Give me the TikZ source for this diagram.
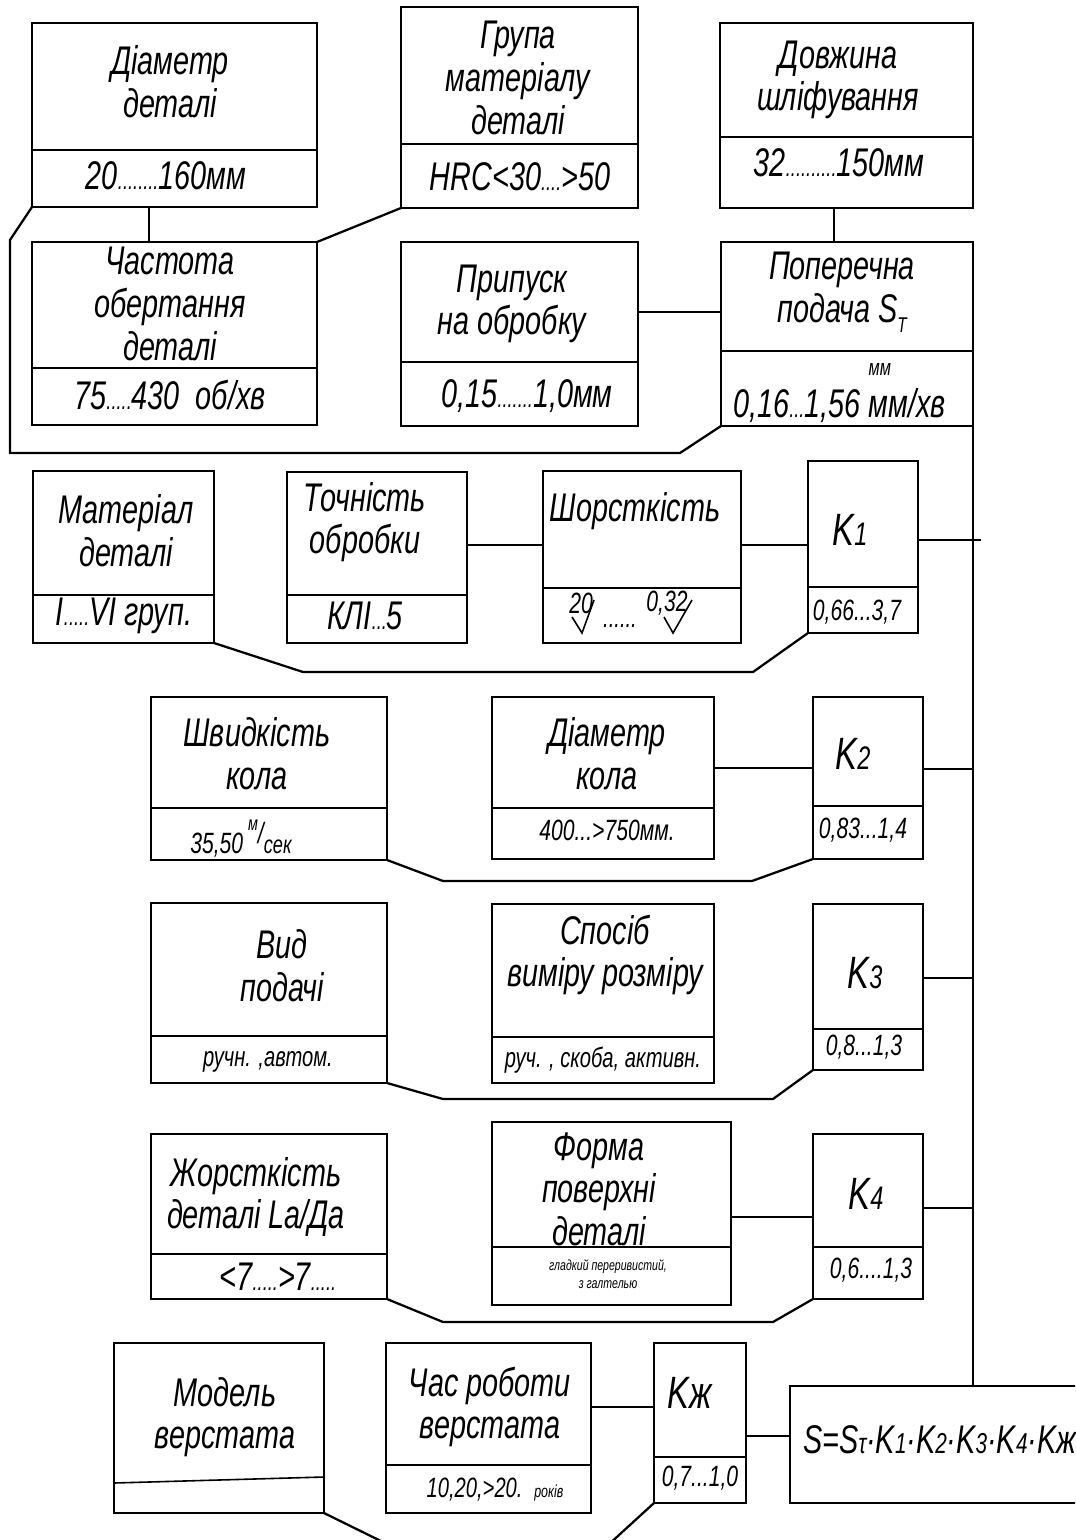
\documentclass[tikz,border=0pt]{standalone}
\usepackage{fontspec}
\usepackage{graphicx}
\newfontfamily\gost{Liberation Sans}[FakeStretch=0.72]
\usetikzlibrary{calc}
\newcommand{\mkcell}[5]{%
  \node[cellf, minimum width={(#4-#2)*0.75pt}, minimum height={(#5-#3)*0.75pt}] (#1) at ({(#2+#4)/2},{(#3+#5)/2}) {};}
\newcommand{\smd}[1]{\scalebox{0.72}{#1}}
\newcommand{\dd}[1]{{\fontsize{19}{19}\selectfont #1}}
\tikzset{
 cellf/.style={draw, line width=1.6pt, inner sep=0pt, outer sep=0pt, rectangle},
 lnk/.style={line width=1.2pt},
 loopln/.style={line width=1.7pt, line join=miter},
 tb/.style={font=\gost\itshape\fontsize{30}{32}\selectfont, align=center, inner sep=0pt},
 tm/.style={font=\gost\itshape\fontsize{22}{24}\selectfont, align=center, inner sep=0pt},
 tsm/.style={font=\gost\itshape\fontsize{21}{24}\selectfont, align=center, inner sep=0pt},
 ttiny/.style={font=\gost\itshape\fontsize{11}{13.5}\selectfont, align=center, inner sep=0pt},
 tk/.style={font=\gost\itshape\fontsize{34}{36}\selectfont, inner sep=0pt},
}
\begin{document}
\begin{tikzpicture}[x=0.75pt,y=-0.75pt]
\useasboundingbox (0,0) rectangle (1075,1540);
\clip (0,0) rectangle (1075,1540);
\fill[white] (0,0) rectangle (1075,1540);

% ---------- top block ----------
\mkcell{A1t}{32}{23}{317}{150}
\mkcell{A1b}{32}{150}{317}{207}
\mkcell{A2t}{401}{7}{638}{144}
\mkcell{A2b}{401}{144}{638}{208}
\mkcell{A3t}{720}{23}{973}{137}
\mkcell{A3b}{720}{137}{973}{208}
\mkcell{B1t}{32}{242}{317}{368}
\mkcell{B1b}{32}{368}{317}{425}
\mkcell{B2t}{401}{242}{638}{362}
\mkcell{B2b}{401}{362}{638}{426}
\mkcell{B3t}{721}{242}{973}{351}
\mkcell{B3b}{721}{351}{973}{426}

\node[tb] (A1x) at (170,82) {Діаметр\\деталі};
\node[tb] (A1v) at (166,176) {20\dd{........}160мм};
\node[tb] (A2x) at (518,78) {Група\\матеріалу\\деталі};
\node[tb] (A2v) at (520,177) {HRC<30\dd{....}>50};
\node[tb] (A3x) at (838,80) {Довжина\\шліфування};
\node[tb] (A3v) at (839,163) {32\dd{..........}150мм};
\node[tb] (B1x) at (170,304) {Частота\\обертання\\деталі};
\node[tb] (B1v) at (170,395) {75\dd{.....}430\ \ об/хв};
\node[tb] (B2x) at (512,304) {Припуск\\на обробку};
\node[tb] (B2v) at (527,396) {0,15\dd{.......}1,0мм};
\node[tb] (B3x) at (842,292) {Поперечна\\подача S\raisebox{-0.25em}{\fontsize{16}{16}\selectfont T}};
\node[tb, anchor=base west] (B3v) at (733,417) {0,16\dd{...}1,56\ \rlap{\raisebox{31pt}{\fontsize{17}{17}\selectfont мм}}мм/хв};

\draw[lnk] (A1b.south west) ++(117,0) coordinate (c1) -- (c1 |- B1t.north);
\draw[loopln] (A2b.south west) -- (B1t.north east);
\draw[lnk] (A3b.south west) ++(114,0) coordinate (c2) -- (c2 |- B3t.north);
\draw[lnk] (B2t.south east) ++(0,-50) coordinate (c3) -- (c3 -| B3t.west);
\draw[loopln] (A1b.south west) -- (10,240) -- (10,453) -- (680,453) -- (B3b.south west);

% ---------- row 1 ----------
\mkcell{C1t}{33}{471}{214}{595}
\mkcell{C1b}{33}{595}{214}{643}
\mkcell{C2t}{287}{472}{467}{595}
\mkcell{C2b}{287}{595}{467}{643}
\mkcell{C3t}{543}{471}{741}{588}
\mkcell{C3b}{543}{588}{741}{643}
\mkcell{K1t}{808}{461}{918}{587}
\mkcell{K1b}{808}{587}{918}{633}

\node[tb] (C1x) at (126,531) {Матеріал\\деталі};
\node[tb] (C1v) at (124,616) {I\dd{.....}VI груп.};
\node[tb] (C2x) at (365,522) {Точність\\обробки};
\node[tb] (C2v) at (365,616) {КЛІ\dd{...}5};
\node[tb] (C3x) at (635,511) {Шорсткість};
\node[tm] (R1) at (581,603) {20};
\draw[lnk] (572,617) -- (582,633) -- (594,600);
\node[tsm] (R2) at (620,626) {......};
\node[tm] (R3) at (667,603) {0,32};
\draw[lnk] (664,617) -- (673,633) -- (692,600);
\node[tk] (K1x) at (850,530) {K\smd{1}};
\node[tm] (K1v) at (857,612) {0,66...3,7};

\draw[lnk] (C2t.south east) ++(0,-50) coordinate (c4) -- (c4 -| C3t.west);
\draw[lnk] (C3t.south east) ++(0,-43) coordinate (c5) -- (c5 -| K1t.west);
\draw[lnk] (K1t.south east) ++(0,-47) coordinate (c6) -- ++(63,0);
\draw[loopln] (C1b.south east) -- (303,672) -- (753,672) -- (K1b.south west);

% ---------- row 2 ----------
\mkcell{D1t}{151}{697}{387}{808}
\mkcell{D1b}{151}{808}{387}{860}
\mkcell{D2t}{492}{697}{714}{808}
\mkcell{D2b}{492}{808}{714}{859}
\mkcell{K2t}{813}{697}{923}{806}
\mkcell{K2b}{813}{806}{923}{859}

\node[tb] (D1x) at (257,754) {Швидкість\\кола};
\node[tm, anchor=base west] (D1v) at (190,853) {35,50\,\raisebox{17pt}{\fontsize{15}{15}\selectfont м}\raisebox{7pt}{\fontsize{22}{22}\selectfont /}{\fontsize{19}{19}\selectfont сек}};
\node[tb] (D2x) at (607,754) {Діаметр\\кола};
\node[tm] (D2v) at (607,830) {400...>750мм.};
\node[tk] (K2x) at (853,754) {K\smd{2}};
\node[tm] (K2v) at (863,830) {0,83...1,4};

\draw[lnk] (D2t.south east) ++(0,-40) coordinate (c7) -- (c7 -| K2t.west);
\draw[lnk] (K2t.south east) ++(0,-37) coordinate (c8) -- (c8 -| B3b.south east);
\draw[loopln] (D1b.south east) -- (443,881) -- (752,881) -- (K2b.south west);

% ---------- row 3 ----------
\mkcell{E1t}{151}{903}{387}{1036}
\mkcell{E1b}{151}{1036}{387}{1083}
\mkcell{E2t}{492}{904}{714}{1037}
\mkcell{E2b}{492}{1037}{714}{1083}
\mkcell{K3t}{813}{904}{923}{1029}
\mkcell{K3b}{813}{1029}{923}{1070}

\node[tb] (E1x) at (282,966) {Вид\\подачі};
\node[tsm] (E1v) at (268,1062) {ручн. ,автом.};
\node[tb] (E2x) at (605,955) {Спосіб\\виміру розміру};
\node[tsm] (E2v) at (603,1060) {руч. , скоба, активн.};
\node[tk] (K3x) at (865,973) {K\smd{3}};
\node[tm] (K3v) at (864,1047) {0,8...1,3};

\draw[lnk] (K3t.south east) ++(0,-51) coordinate (c9) -- (c9 -| B3b.south east);
\draw[loopln] (E1b.south east) -- (443,1099) -- (773,1099) -- (K3b.south west);

% ---------- row 4 ----------
\mkcell{F1t}{151}{1134}{387}{1254}
\mkcell{F1b}{151}{1254}{387}{1299}
\mkcell{F2t}{492}{1122}{731}{1247}
\mkcell{F2b}{492}{1247}{731}{1305}
\mkcell{K4t}{813}{1134}{923}{1247}
\mkcell{K4b}{813}{1247}{923}{1299}

\node[tb] (F1x) at (256,1197) {Жорсткість\\деталі La/Дa};
\node[tb] (F1v) at (278,1277) {<7\dd{.....}>7\dd{.....}};
\node[tb] (F2x) at (599,1189) {Форма\\поверхні\\деталі};
\node[ttiny] (F2v) at (608,1274) {гладкий переривистий,\\з галтелью};
\node[tk] (K4x) at (866,1194) {K\smd{4}};
\node[tm] (K4v) at (871,1270) {0,6....1,3};

\draw[lnk] (F2t.south east) ++(0,-30) coordinate (c10) -- (c10 -| K4t.west);
\draw[lnk] (K4t.south east) ++(0,-39) coordinate (c11) -- (c11 -| B3b.south east);
\draw[loopln] (F1b.south east) -- (443,1322) -- (773,1322) -- (K4b.south west);

% ---------- row 5 ----------
\mkcell{G1}{114}{1343}{324}{1513}
\draw[lnk] (G1.south west) ++(0,-30) -- ($(G1.south east)+(0,-36)$);
\mkcell{G2t}{386}{1343}{591}{1465}
\mkcell{G2b}{386}{1465}{591}{1513}
\mkcell{KZt}{654}{1343}{746}{1457}
\mkcell{KZb}{654}{1457}{746}{1503}
\mkcell{S}{790}{1386}{1090}{1503}

\node[tb] (G1x) at (225,1417) {Модель\\верстата};
\node[tb] (G2x) at (490,1407) {Час роботи\\верстата};
\node[tm] (G2v) at (495,1490) {{\fontsize{21}{21}\selectfont 10,20,>20.}\ \ {\fontsize{13}{13}\selectfont років}};
\node[tk] (KZx) at (690,1393) {Kж};
\node[tm] (KZv) at (700,1478) {0,7...1,0};
\node[tb, anchor=west] (Sx) at (803,1440) {S=S\smd{τ}·K\smd{1}·K\smd{2}·K\smd{3}·K\smd{4}·Kж};

\draw[lnk] (G2t.south east) ++(0,-58) coordinate (c12) -- (c12 -| KZt.west);
\draw[lnk] (KZt.south east) ++(0,-21) coordinate (c13) -- (c13 -| S.west);
\draw[loopln] (G1.south east) -- (391,1546) -- (607,1546) -- (KZb.south west);
\draw[loopln] (B3b.south east) -- (B3b.south east |- S.north);
\end{tikzpicture}
\end{document}
